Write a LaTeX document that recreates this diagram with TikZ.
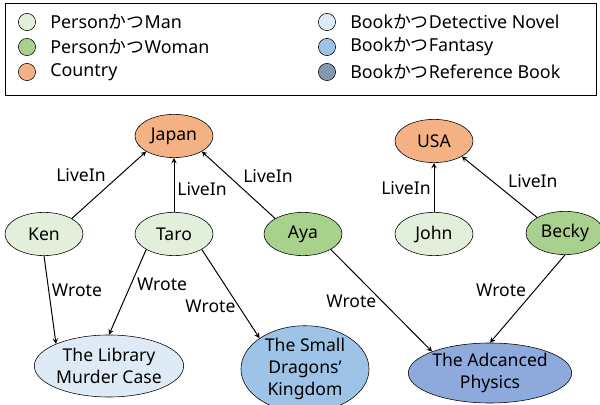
\documentclass[tikz,border=0pt]{standalone}
\usepackage{fontspec}
\setmainfont{Noto Sans}
\newfontfamily\cjk{Noto Sans CJK JP}
\usetikzlibrary{shapes}
\definecolor{man}{HTML}{E2EFDA}
\definecolor{woman}{HTML}{A9D18E}
\definecolor{country}{HTML}{F4B183}
\definecolor{detective}{HTML}{DEEBF7}
\definecolor{fantasy}{HTML}{9DC3E6}
\definecolor{refbook}{HTML}{8EA9DB}
\definecolor{reflegend}{HTML}{8497B0}
\newcommand{\katsu}{{\cjk かつ}}

\begin{document}
\begin{tikzpicture}[x=0.025cm,y=-0.025cm,
  font=\fontsize{12.5}{15.5}\selectfont,
  ent/.style={draw, ellipse, inner sep=0pt, minimum width=1.95cm, minimum height=1.08cm},
  book/.style={ent, align=center},
  legdot/.style={draw, circle, inner sep=0pt, minimum size=0.43cm},
  legtext/.style={anchor=west, inner sep=0pt, font=\fontsize{12.7}{15}\selectfont},
  lbl/.style={inner sep=2pt}]
  \useasboundingbox (0,0) rectangle (600,405);
  % legend
  \draw[line width=0.6pt] (5,3) rectangle (596,95);
  \node[legdot,fill=man] (dman) at (27,22) {};
  \node[legdot,fill=woman] (dwoman) at (27,47) {};
  \node[legdot,fill=country] (dcountry) at (27,72) {};
  \node[legdot,fill=detective] (ddet) at (327,22) {};
  \node[legdot,fill=fantasy] (dfan) at (327,47) {};
  \node[legdot,fill=reflegend] (dref) at (327,72) {};
  \node[legtext] (tman) at (50,22) {Person\katsu Man};
  \node[legtext] (twoman) at (50,47) {Person\katsu Woman};
  \node[legtext] (tcountry) at (50,72) {Country};
  \node[legtext] (tdet) at (350,22) {Book\katsu Detective Novel};
  \node[legtext] (tfan) at (350,47) {Book\katsu Fantasy};
  \node[legtext] (tref) at (350,72) {Book\katsu Reference Book};
  % graph
  \node[ent,fill=country] (japan) at (174,136) {Japan};
  \node[ent,fill=country] (usa) at (434,141) {USA};
  \node[ent,fill=man] (ken) at (44,234) {Ken};
  \node[ent,fill=man] (taro) at (174,234) {Taro};
  \node[ent,fill=woman] (aya) at (303,234) {Aya};
  \node[ent,fill=man] (john) at (434,234) {John};
  \node[ent,fill=woman] (becky) at (565,233) {Becky};
  \node[book,fill=detective,minimum width=3.3cm,minimum height=1.55cm] (library) at (109,366) {The Library\\Murder Case};
  \node[book,fill=fantasy,minimum width=3.2cm,minimum height=2cm] (dragon) at (305,369) {The Small\\Dragons'\\Kingdom};
  \node[book,fill=refbook,minimum width=3.7cm,minimum height=1.5cm] (physics) at (490,373) {The Adcanced\\Physics};
  \path[-stealth,line width=0.7pt] (ken.north east) edge node[lbl,above left] {LiveIn} (japan.south west);
  \path[-stealth,line width=0.7pt] (taro.north) edge node[lbl,right,pos=0.43] {LiveIn} (japan.south);
  \path[-stealth,line width=0.7pt] (aya.north west) edge node[lbl,above right,pos=0.48] {LiveIn} (japan.south east);
  \path[-stealth,line width=0.7pt] (john.north) edge node[lbl,left,pos=0.49] {LiveIn} (usa.south);
  \path[-stealth,line width=0.7pt] (becky.north west) edge node[lbl,above right,pos=0.43] {LiveIn} (usa.south east);
  \path[-stealth,line width=0.7pt] (ken.south) edge node[lbl,right,pos=0.39] {Wrote} (library.north west);
  \path[-stealth,line width=0.7pt] (taro.south west) edge node[lbl,right,pos=0.41,inner sep=4pt] {Wrote} (library.north);
  \path[-stealth,line width=0.7pt] (taro.south east) edge node[lbl,left,pos=0.64] {Wrote} (dragon.north west);
  \path[-stealth,line width=0.7pt] (aya.south east) edge node[lbl,left,pos=0.51,inner sep=4pt] {Wrote} (physics.north west);
  \path[-stealth,line width=0.7pt] (becky.south) edge node[lbl,left,pos=0.4,inner sep=6pt] {Wrote} (physics.north);
\end{tikzpicture}
\end{document}
